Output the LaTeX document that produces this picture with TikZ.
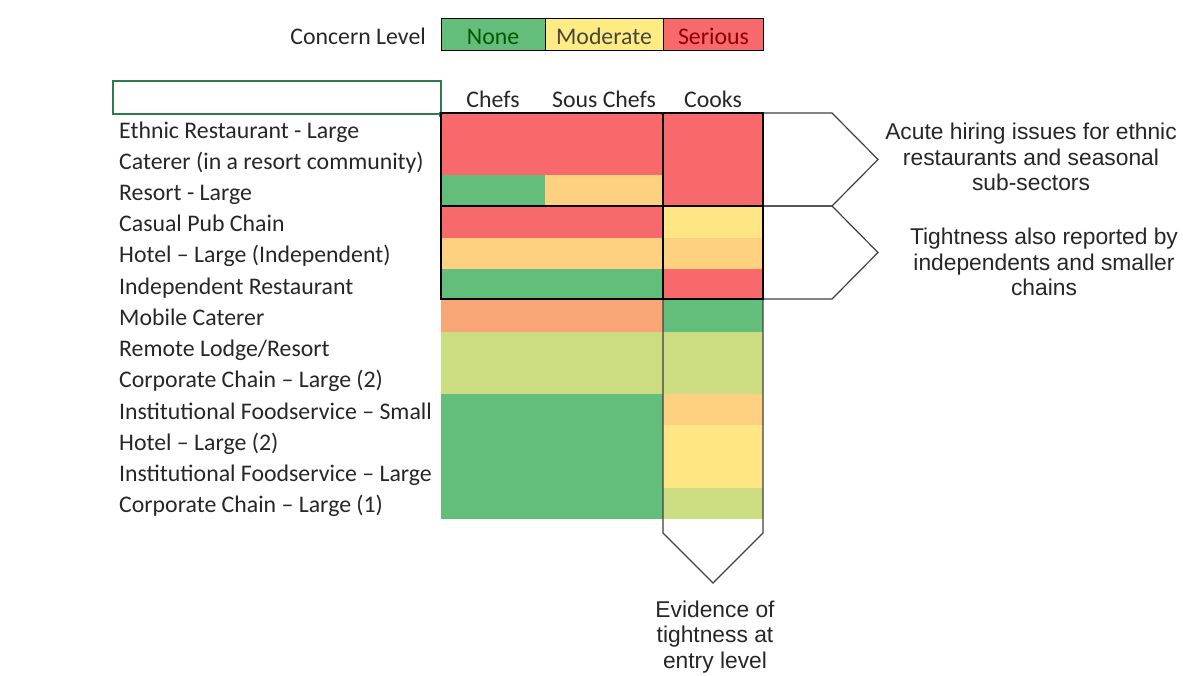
\documentclass[tikz,border=0pt]{standalone}
\usepackage{fontspec}
\setmainfont{Carlito}
\newfontfamily\arialfont{Liberation Sans}
\usepackage{tikz}

\definecolor{serious}{HTML}{F8696B}
\definecolor{good}{HTML}{63BE7B}
\definecolor{moderate}{HTML}{FFEB84}
\definecolor{yel}{HTML}{FFE583}
\definecolor{amber}{HTML}{FDD17F}
\definecolor{peach}{HTML}{F9A677}
\definecolor{lime}{HTML}{CCDC81}
\definecolor{xlgreen}{HTML}{2E7A4C}
\definecolor{txt}{HTML}{262626}

\tikzset{
	lbl/.style={anchor=base west,inner sep=0pt,text=txt,font=\fontsize{23.8}{26}\selectfont},
	legbox/.style={draw=black,line width=1pt,minimum height=32,inner sep=0pt,text height=20,text depth=0,font=\fontsize{23.8}{26}\selectfont},
	frame/.style={draw=black,line width=2.2pt},
	callout/.style={draw=black!75,line width=1.2pt,line join=miter},
	note/.style={align=center,inner sep=0pt,text=txt,font=\arialfont\fontsize{22.8}{25.8}\selectfont}
}

\begin{document}
\begin{tikzpicture}[x=1pt,y=-1pt]
		\useasboundingbox (0,0) rectangle (1183,675);
		
		\node[lbl,anchor=base east] (concern) at (426,44) {Concern Level};
		\node[legbox,fill=good,text=green!35!black,minimum width=104] (nonebox) at (493,34) {None};
		\node[legbox,fill=moderate,text=black!75!yellow!70!black,minimum width=118] (modbox) at (604,34) {Moderate};
		\node[legbox,fill=serious,text=red!55!black,minimum width=100] (serbox) at (713.5,34) {Serious};
		
		\node[draw=xlgreen,line width=2pt,minimum width=328,minimum height=33,inner sep=0pt] (hdr) at (277,97.5) {};
		\fill[xlgreen] (438.5,111.5) rectangle (443.5,116.5);
		\node[lbl,anchor=base] (chefs) at (493,107) {Chefs};
		\node[lbl,anchor=base] (sous) at (604,107) {Sous Chefs};
		\node[lbl,anchor=base] (cooks) at (713,107) {Cooks};
		
		\foreach \c/\s/\k [count=\i] in {serious/serious/serious, serious/serious/serious, good/amber/serious,
			serious/serious/yel, amber/amber/amber, good/good/serious, peach/peach/good, lime/lime/lime,
			lime/lime/lime, good/good/amber, good/good/yel, good/good/yel, good/good/lime}
		{
			\fill[\c] (441,{113+(\i-1)*31.23}) rectangle (545,{113+\i*31.23});
			\fill[\s] (545,{113+(\i-1)*31.23}) rectangle (663,{113+\i*31.23});
			\fill[\k] (663,{113+(\i-1)*31.23}) rectangle (763,{113+\i*31.23});
		}
		
		\foreach \t [count=\i] in {Ethnic Restaurant - Large, Caterer (in a resort community), Resort - Large,
			Casual Pub Chain, Hotel -- Large (Independent), Independent Restaurant, Mobile Caterer,
			Remote Lodge/Resort, Corporate Chain -- Large (2), Institutional Foodservice -- Small,
			Hotel -- Large (2), Institutional Foodservice -- Large, Corporate Chain -- Large (1)}
		\node[lbl] (r\i) at (119,{138+(\i-1)*31.23}) {\t};
		
		\draw[callout] (663,299) -- (663,533) -- (713,583) -- (763,533) -- (763,299);
		\foreach \y in {113,206}
		\draw[callout] (763,\y) -- (832,\y) -- (878,{\y+46.5}) -- (832,{\y+93}) -- (763,{\y+93});
		
		\draw[frame] (441,113) rectangle (663,206);
		\draw[frame] (663,113) rectangle (763,206);
		\draw[frame] (441,206) rectangle (663,299);
		\draw[frame] (663,206) rectangle (763,299);
		
		\node[note] (acute) at (1031,157) {Acute hiring issues for ethnic\\restaurants and seasonal\\sub-sectors};
		\node[note] (tight) at (1044,262) {Tightness also reported by\\independents and smaller\\chains};
		\node[note] (entry) at (715,637) {Evidence of\\tightness at\\entry level};
	\end{tikzpicture}
\end{document}
